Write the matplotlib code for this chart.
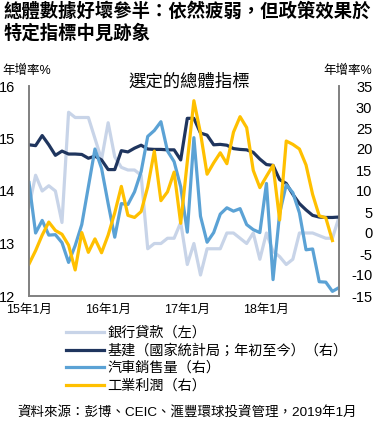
import numpy as np
import matplotlib
matplotlib.use("Agg")
import matplotlib.pyplot as plt

# 字體設定
plt.rcParams['font.family'] = ['Liberation Sans', 'Noto Sans CJK TC', 'DejaVu Sans']
plt.rcParams['axes.unicode_minus'] = False

# 資料 (2015年1月 - 2018年12月, 每月)
months = np.arange(48)
tick_pos = [0, 12, 24, 36]
tick_labels = ["15年1月", "16年1月", "17年1月", "18年1月"]

bank_loans = [13.7, 14.3, 14.0, 14.1, 14.0, 13.4, 15.5, 15.4, 15.4, 15.4, 15.0, 14.6,
              15.3, 14.65, 14.45, 14.4, 14.4, 14.3, 12.9, 13.0, 13.0, 13.1, 13.1, 13.4,
              12.6, 13.0, 12.4, 12.9, 12.9, 12.9, 13.2, 13.2, 13.1, 13.0, 13.2, 12.7,
              13.2, 12.85, 12.75, 12.6, 12.7, 13.2, 13.2, 13.2, 13.15, 13.1, 13.1, 13.5]

infrastructure = [21.0, 20.8, 23.2, 21.0, 18.5, 19.5, 18.8, 18.8, 18.7, 17.8, 18.3, 17.4,
                  15.1, 15.1, 19.6, 19.3, 20.2, 20.9, 20.0, 19.9, 19.9, 19.8, 19.8, 17.4,
                  27.3, 27.3, 23.8, 23.3, 21.0, 21.1, 20.9, 20.1, 19.9, 19.8, 19.2, 17.6,
                  16.3, 16.1, 12.7, 11.8, 9.2, 7.0, 5.5, 4.2, 3.8, 3.7, 3.7, 3.8]

auto_sales = [12.0, 0.0, 3.0, -0.5, -0.4, -2.3, -7.0, -3.0, 2.0, 11.0, 20.0, 15.4,
              7.0, -1.0, 7.0, 6.8, 9.8, 14.6, 23.0, 24.4, 26.5, 19.5, 17.0, 11.0,
              0.2, 22.7, 4.0, -2.2, 0.1, 4.5, 6.0, 5.2, 5.8, 2.0, 0.8, 0.1,
              11.8, -11.1, 4.7, 11.5, 9.6, 4.8, -4.0, -3.8, -11.6, -11.7, -13.9, -13.0]

industrial_profits = [-7.4, -4.2, -0.5, 2.6, 0.6, -0.3, -2.9, -8.8, 0.1, -4.6, -1.4, -4.7,
                      -0.5, 4.8, 11.1, 4.2, 3.7, 5.1, 11.0, 19.5, 7.7, 9.8, 14.5, 2.3,
                      17.0, 31.5, 23.8, 14.0, 16.7, 19.1, 16.5, 24.0, 27.7, 25.1, 14.9, 10.8,
                      13.5, 16.1, 3.1, 21.9, 21.1, 20.0, 16.2, 9.2, 4.1, 3.6, -1.8, np.nan]

labels = ["銀行貸款（左）", "基建（國家統計局；年初至今）（右）", "汽車銷售量（右）", "工業利潤（右）"]
colors = ["#C8D4E8", "#1F355E", "#5BA2D5", "#FFC000"]

W, H = 377, 428
fig = plt.figure(figsize=(W / 100, H / 100), dpi=100)
ax = fig.add_axes([29 / W, 1 - 296 / H, 310 / W, 210 / H])
ax2 = ax.twinx()

lw = 2.3
h1, = ax.plot(months, bank_loans, color=colors[0], lw=lw)
h2, = ax2.plot(months, infrastructure, color=colors[1], lw=lw)
h3, = ax2.plot(months, auto_sales, color=colors[2], lw=lw)
h4, = ax2.plot(months, industrial_profits, color=colors[3], lw=lw)

ax.set_xlim(0, 47)
ax.set_ylim(12, 16)
ax.set_yticks([12, 13, 14, 15, 16])
ax2.set_ylim(-15, 35)
ax2.set_yticks(np.arange(-15, 36, 5))
ax.set_xticks(tick_pos)
ax.set_xticklabels(tick_labels, fontsize=9)

ax.tick_params(axis='y', length=0, pad=10, labelsize=10.5)
ax.tick_params(axis='x', length=0, pad=6)
ax2.tick_params(axis='y', length=0, pad=24, labelsize=10.5)
for t in ax2.get_yticklabels():
    t.set_horizontalalignment('right')

for a in (ax, ax2):
    a.spines['top'].set_visible(False)
    for s in ('left', 'right', 'bottom'):
        a.spines[s].set_color('#808080')
        a.spines[s].set_linewidth(1.2)

# 標題
fig.text(4 / W, 1 - 2 / H, "總體數據好壞參半：依然疲弱，但政策效果於\n特定指標中見跡象",
         fontsize=13.2, fontweight='bold', family=['Noto Sans CJK TC'],
         va='top', ha='left', linespacing=1.2)
fig.text(2 / W, 1 - 71 / H, "年增率%", fontsize=9, va='center', ha='left')
fig.text(372 / W, 1 - 71 / H, "年增率%", fontsize=9, va='center', ha='right')
fig.text(189 / W, 1 - 81 / H, "選定的總體指標", fontsize=12.5, va='center', ha='center')

fig.legend([h1, h2, h3, h4], labels, loc='upper left',
           bbox_to_anchor=(66 / W, 1 - 326 / H), frameon=False, fontsize=10.2,
           handlelength=2.7, handletextpad=0.2, labelspacing=0.25,
           borderpad=0, borderaxespad=0)

fig.text(17 / W, 1 - 413 / H, "資料來源：彭博、CEIC、滙豐環球投資管理，2019年1月",
         fontsize=9.7, va='center', ha='left')

fig.savefig("out.png", dpi=100)
